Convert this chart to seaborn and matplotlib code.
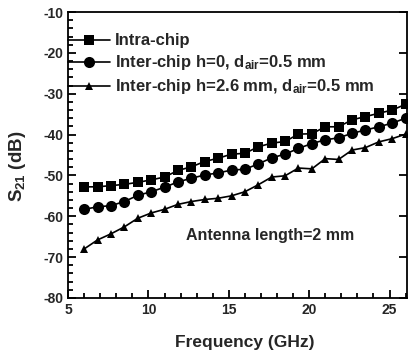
import numpy as np
import pandas as pd
import matplotlib
matplotlib.use("Agg")
import matplotlib.pyplot as plt
import seaborn as sns
from matplotlib.ticker import MultipleLocator

# data
freq = [6.0, 6.83, 7.67, 8.5, 9.33, 10.17, 11.0, 11.83, 12.67, 13.5, 14.33, 15.17, 16.0,
        16.83, 17.67, 18.5, 19.33, 20.17, 21.0, 21.83, 22.67, 23.5, 24.33, 25.17, 26.0]
intra = [-52.8, -52.8, -52.5, -52.2, -51.7, -51.1, -50.4, -48.8, -47.9, -46.6, -45.8, -44.8, -44.6,
         -43.0, -42.1, -41.7, -39.9, -39.8, -38.1, -38.1, -36.4, -35.6, -34.8, -34.0, -32.6]
inter_h0 = [-58.3, -57.7, -57.4, -56.4, -54.9, -54.0, -52.9, -51.6, -50.7, -49.9, -49.4, -48.7, -48.5,
            -47.2, -45.7, -44.8, -43.4, -42.2, -41.3, -40.8, -39.7, -38.9, -38.1, -37.2, -36.0]
inter_h26 = [-68.0, -65.8, -64.3, -62.6, -60.5, -59.2, -58.3, -57.1, -56.4, -55.9, -55.6, -55.0, -54.0,
             -52.3, -50.4, -50.1, -48.2, -48.4, -45.9, -46.1, -43.8, -43.2, -41.8, -41.0, -39.9]
labels = ["Intra-chip",
          r"Inter-chip h=0, d$_{\mathregular{air}}$=0.5 mm",
          r"Inter-chip h=2.6 mm, d$_{\mathregular{air}}$=0.5 mm"]
markers = ["s", "o", "^"]
msizes = [7, 8, 6]

sns.set_style("ticks")
plt.rcParams['font.family'] = ['Liberation Sans', 'DejaVu Sans']
plt.rcParams['font.weight'] = 'bold'
plt.rcParams['axes.unicode_minus'] = False
plt.rcParams['mathtext.fontset'] = 'custom'
plt.rcParams['mathtext.rm'] = 'Liberation Sans:bold'
plt.rcParams['mathtext.bf'] = 'Liberation Sans:bold'
plt.rcParams['mathtext.it'] = 'Liberation Sans:bold'

fig = plt.figure(figsize=(4.08, 3.53), dpi=100)
ax = fig.add_axes([0.167, 0.156, 0.831, 0.81])

for ys, lab, m, ms in zip([intra, inter_h0, inter_h26], labels, markers, msizes):
    df = pd.DataFrame({"f": freq, "s": ys})
    sns.lineplot(data=df, x="f", y="s", ax=ax, color="black", marker=m, markersize=ms,
                 markeredgewidth=0, linewidth=1.2, label=lab)

ax.set_xlim(5, 26.1)
ax.set_ylim(-80, -10)
ax.xaxis.set_major_locator(MultipleLocator(5))
ax.xaxis.set_minor_locator(MultipleLocator(1))
ax.yaxis.set_major_locator(MultipleLocator(10))
ax.yaxis.set_minor_locator(MultipleLocator(2))
ax.tick_params(which="both", direction="in", labelsize=10, color="black", width=1.3)
ax.tick_params(which="major", length=6)
ax.tick_params(which="minor", length=3.5)
ax.tick_params(axis="y", which="major", right=True)
ax.tick_params(axis="y", which="minor", right=False)
for lbl in ax.get_xticklabels() + ax.get_yticklabels():
    lbl.set_fontweight("bold")
for sp in ax.spines.values():
    sp.set_linewidth(1.3)
    sp.set_color("black")
    sp.set_visible(True)

ax.set_xlabel("Frequency (GHz)", fontsize=12.5, fontweight="bold")
ax.set_ylabel(r"S$_{\mathregular{21}}$ (dB)", fontsize=13.5, fontweight="bold")
ax.xaxis.set_label_coords(0.52, -0.128)
ax.yaxis.set_label_coords(-0.118, 0.46)

ax.text(17.6, -64.6, "Antenna length=2 mm", fontsize=11.5, fontweight="bold",
        ha="center", va="center")

leg = ax.legend(loc="upper left", bbox_to_anchor=(0, 0.925), frameon=False, fontsize=12,
                handlelength=2.5, handletextpad=0.3, borderpad=0, borderaxespad=0,
                labelspacing=0.3)
for t in leg.get_texts():
    t.set_fontweight("bold")

fig.savefig("out.png", dpi=100)
